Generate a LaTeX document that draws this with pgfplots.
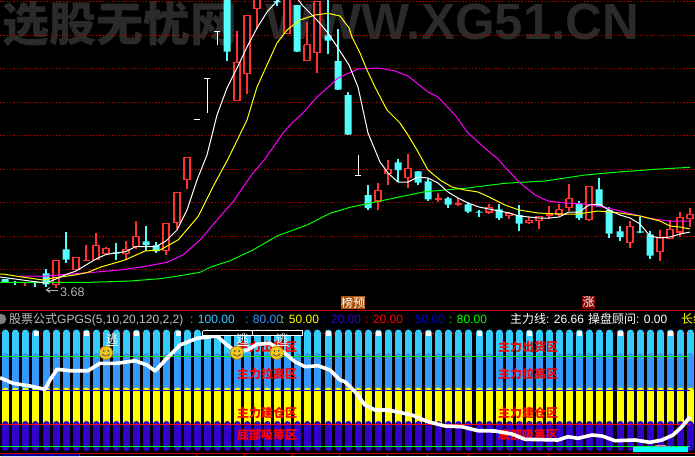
\documentclass[border=0pt]{standalone}
\usepackage{fontspec}
\usepackage{pgfplots}
\usepackage{pgfplotstable}
\pgfplotsset{compat=1.18}
\setmainfont{Liberation Sans}
\newfontfamily\cjk{Noto Sans CJK SC}

\definecolor{upred}{HTML}{FF3232}
\definecolor{downcy}{HTML}{54FCFC}
\definecolor{griddk}{HTML}{A80000}
\definecolor{wmark}{HTML}{2A2A2A}
\definecolor{bandA}{HTML}{33CCFF}
\definecolor{bandB}{HTML}{3399FF}
\definecolor{bandD}{HTML}{3300CC}
\definecolor{smileface}{HTML}{F2C81E}
\definecolor{smileedge}{HTML}{B08A10}
\definecolor{pureY}{HTML}{FFFF00}
\definecolor{pureM}{HTML}{FF00FF}
\definecolor{pureC}{HTML}{00FFFF}
\definecolor{pureG}{HTML}{00FF00}

% all positions: x and y in pixels, y from the top
\pgfplotstableread{
x a b c d
5 345.5 373 407.5 436
15 345.5 373 407.5 436
25 345.5 373 407.5 436
35 345.5 373 407.5 436
46 345.5 373 407.5 436
56 345.5 373 407.5 436
66 345.5 373 407.5 436
76 345.5 373 407.5 436
86 345.5 373 407.5 436
96 345.5 373 407.5 436
106 345.5 373 407.5 436
116 345.5 373 407.5 436
126 345.5 373 407.5 436
136 345.5 373 407.5 436
146 345.5 373 407.5 436
156 345.5 373 407.5 436
166 345.5 373 407.5 436
177 345.5 373 407.5 436
187 345.5 373 407.5 436
197 345.5 373 407.5 436
207 345.5 373 407.5 436
217 345.5 373 407.5 436
227 345.5 373 407.5 436
237 345.5 373 407.5 436
247 345.5 373 407.5 436
257 345.5 373 407.5 436
267 345.5 373 407.5 436
277 345.5 373 407.5 436
287 345.5 373 407.5 436
297 345.5 373 407.5 436
307 345.5 373 407.5 436
317 345.5 373 407.5 436
328 345.5 373 407.5 436
338 345.5 373 407.5 436
348 345.5 373 407.5 436
358 345.5 373 407.5 436
368 345.5 373 407.5 436
378 345.5 373 407.5 436
388 345.5 373 407.5 436
398 345.5 373 407.5 436
408 345.5 373 407.5 436
418 345.5 373 407.5 436
428 345.5 373 407.5 436
438 345.5 373 407.5 436
448 345.5 373 407.5 436
458 345.5 373 407.5 436
468 345.5 373 407.5 436
479 345.5 373 407.5 436
489 345.5 373 407.5 436
499 345.5 373 407.5 436
509 345.5 373 407.5 436
519 345.5 373 407.5 436
529 345.5 373 407.5 436
539 345.5 373 407.5 436
549 345.5 373 407.5 436
559 345.5 373 407.5 436
569 345.5 373 407.5 436
579 345.5 373 407.5 436
589 345.5 373 407.5 436
599 345.5 373 407.5 436
609 345.5 373 407.5 436
620 345.5 373 407.5 436
630 345.5 373 407.5 436
640 345.5 373 407.5 436
650 345.5 373 407.5 436
660 345.5 373 407.5 436
670 345.5 373 407.5 436
680 345.5 373 407.5 436
690 345.5 373 407.5 436
}\slots

\pgfplotstableread{
x y
0 277
15 279
30 281
46 283
56 279
66 274.5
76 271
86 265
96 259
106 254.5
116 253
126 251.5
136 246.5
146 246.5
156 246.5
166 241
177 230
187 210
197 180
207 155
217 115
227 88
237 68
247 47
257 28
267 12
277 1
287 -4
297 -2
302 5
317 20
328 33
338 48
349 65
358 87
368 133
375 150
380 162
388 173
398 182
408 182
418 177
428 178
438 183
448 192
458 198
468 203
479 207
489 209
499 211
509 213
519 216
529 217
539 218
549 218
559 217
569 212
579 212
589 205
599 204
609 210
620 215
630 218
640 224
650 236
660 238
670 237
680 234
690 232
}\maW

\pgfplotstableread{
x y
0 274
5 274.3
20 276.7
43 280
55 277.7
75 275
88 272.3
100 267.3
125 260
145 251
160 250
178 240
198 216.7
213 186.7
228 159
247 120
257 87
267 65
277 43
287 30
300 20
315 15
328 13.3
340 16
349 28
352 37
360 53
367 70
375 87
387 110
400 123
408 135
417 150
428 170
440 180
452 187
465 190
478 192
489 197
505 205
519 210
538 213
558 214
578 214
598 211
620 213
640 216
660 221
670 226
680 227
690 229
}\maY

\pgfplotstableread{
x y
20 276
43 276.3
67 274.3
88 272.7
120 270
143 266.7
167 262.3
183 255
200 240
217 220
233 201.7
253 173
265 159
283 133
292 123
303 113
317 97
325 90
338 78
349 73
358 69
378 68
395 71
408 76
428 92
438 97
455 115
468 133
487 150
498 159
505 167
519 182
535 195
548 201
565 203
585 204
608 208
628 213
648 218
668 221
690 221
}\maM

\pgfplotstableread{
x y
0 282.3
90 282.3
130 281
160 278.7
180 275.7
200 272.3
210 267.3
230 260.7
253 250
277 236
307 225
330 213.3
350 207.3
385 200
425 191.7
465 188.3
505 183.3
545 181
585 175
615 172.3
655 169.3
690 167.3
}\maG

\pgfplotstableread{
x y
0 377.7
13 383.3
30 386
45 389.3
50 380
57 369.3
70 370.7
88 370.7
100 363.3
117 363.3
135 360.7
147 365
155 371
167 358.3
180 345
197 338.3
217 336
227 345
237 351.7
247 350
257 344.3
270 343.3
283 351.7
295 361.7
305 366.7
318 365.7
330 370
340 380
345 381.7
355 391.7
365 405
375 410
388 410
412 415
428 421.7
445 426
462 426.7
478 430.7
495 431
512 434
525 439.3
558 440
568 436.7
578 438.3
592 435
602 436
615 440.7
635 440
650 442.3
662 440
673 435
682 426.7
690 416.7
}\mainline

\pgfdeclareplotmark{smile}{%
  \pgfsetstrokecolor{smileedge}\pgfsetfillcolor{smileface}\pgfsetlinewidth{0.8pt}%
  \pgfpathcircle{\pgfpointorigin}{6.6pt}\pgfusepath{fill,stroke}%
  \pgfsetfillcolor{black!75}%
  \pgfpathcircle{\pgfpoint{-2.2pt}{1.8pt}}{0.9pt}%
  \pgfpathcircle{\pgfpoint{2.2pt}{1.8pt}}{0.9pt}\pgfusepath{fill}%
  \pgfsetstrokecolor{black!75}\pgfsetlinewidth{0.7pt}%
  \pgfpathmoveto{\pgfpoint{-3.6pt}{-1.2pt}}%
  \pgfpathcurveto{\pgfpoint{-2pt}{-4pt}}{\pgfpoint{2pt}{-4pt}}{\pgfpoint{3.6pt}{-1.2pt}}%
  \pgfusepath{stroke}%
}

% x, high, low, body top, body bottom
\newcommand\up[5]{%
  \pgfmathsetmacro\xl{#1-3}\pgfmathsetmacro\xr{#1+3}%
  \addplot[upred,line width=1.1pt] coordinates {(#1,#2) (#1,#3)};
  \addplot[draw=upred,fill=black,line width=1.1pt] coordinates {(\xl,#4) (\xr,#4) (\xr,#5) (\xl,#5) (\xl,#4)};
}
\newcommand\down[5]{%
  \pgfmathsetmacro\xl{#1-3.5}\pgfmathsetmacro\xr{#1+3.5}%
  \addplot[downcy,line width=1.1pt] coordinates {(#1,#2) (#1,#3)};
  \addplot[draw=none,fill=downcy] coordinates {(\xl,#4) (\xr,#4) (\xr,#5) (\xl,#5) (\xl,#4)};
}
\newcommand\flatup[4]{%
  \pgfmathsetmacro\xl{#1-3.5}\pgfmathsetmacro\xr{#1+3.5}%
  \addplot[upred,line width=1.1pt] coordinates {(#1,#2) (#1,#3)};
  \addplot[upred,line width=1.8pt] coordinates {(\xl,#4) (\xr,#4)};
}
% lone white marks: x, top, bottom, y of the bar
\newcommand\tee[4]{%
  \pgfmathsetmacro\xl{#1-3}\pgfmathsetmacro\xr{#1+3}%
  \addplot[white,line width=1pt] coordinates {(#1,#2) (#1,#3)};
  \addplot[white,line width=1pt] coordinates {(\xl,#4) (\xr,#4)};
}
\newcommand\hd[4]{\node[anchor=base west,inner sep=0pt,text=#1,font=\fontsize{12}{15}\selectfont] at (axis cs:#2,#3) {#4};}
\newcommand\zone[3]{\node[inner sep=0pt,text=red,font=\fontsize{12}{14}\selectfont\cjk\bfseries] at (axis cs:#1,#2) {#3};}

\begin{document}
\begin{tikzpicture}
\clip (0,0) rectangle (695pt,456pt);
\begin{axis}[
    width=695pt, height=456pt, scale only axis,
    xmin=0, xmax=695, ymin=0, ymax=456,
    y dir=reverse,
    axis line style={draw=none},
    ticks=none,
    axis background/.style={fill=black},
  ]

  % watermark
  \node[anchor=west,inner sep=0pt,text=wmark,font=\fontsize{47}{50}\selectfont\cjk\bfseries] at (axis cs:2,24) {选股无忧网};
  \node[anchor=west,inner sep=0pt,text=wmark,font=\fontsize{51}{54}\selectfont\bfseries] at (axis cs:265,22) {WWW.XG51.CN};

  % price panel grid
  \pgfplotsinvokeforeach{1.3,35.3,68.3,102.3,135.3,169.3,202.3,236.3,269.3}{
    \addplot[griddk,line width=0.8pt,dash pattern=on 1.5pt off 1.8pt] coordinates {(0,#1) (695,#1)};
  }

  \down{5}{279}{283}{279}{282}
  \down{15}{280.7}{284.7}{281.8}{282.8}
  \flatup{25}{282}{285.7}{282.5}
  \down{35}{281}{286.7}{281.8}{282.6}
  \down{46}{269.3}{286.7}{273.3}{284.3}
  \up{56}{260.3}{287.7}{260.3}{284.3}
  \down{66}{232}{262.7}{249.3}{259.7}
  \up{76}{257.3}{269.7}{257.3}{269.7}
  \flatup{86}{245.3}{261.3}{260.5}
  \up{96}{233.3}{259.3}{245.3}{259.3}
  \up{106}{247.3}{253.3}{248.3}{253.3}
  \down{116}{243.3}{259.7}{252.3}{253.6}
  \up{126}{241.3}{260}{249.3}{253.3}
  \up{136}{221.3}{249.3}{236.3}{246.7}
  \down{146}{226.3}{251.3}{241.3}{245}
  \down{156}{242.3}{253.3}{245.3}{251.3}
  \up{166}{223.3}{254.7}{223.3}{250.3}
  \up{177}{192.3}{229.3}{192.3}{222.3}
  \up{187}{157.3}{188.7}{157.3}{179.7}
  \tee{197}{119}{119}{119}
  \tee{207}{78.3}{112.7}{78.3}
  \tee{217}{31.3}{44.7}{31.3}
  \down{227}{-3}{61}{-3}{51.7}
  \up{237}{31.3}{100.3}{62.3}{100.3}
  \up{247}{15.3}{93.7}{15.3}{73.3}
  \up{257}{-3}{29}{-3}{8.3}
  \down{277}{-1}{5.7}{1.2}{2.4}
  \up{287}{-3}{33.3}{-3}{33.3}
  \down{297}{5}{51.7}{5}{51.7}
  \up{307}{22}{60.7}{44.7}{60.7}
  \up{317}{1.3}{73.3}{1.3}{52.3}
  \down{328}{-1}{54.3}{35.3}{40.7}
  \down{338}{29}{89.7}{61}{89.7}
  \down{348}{92}{134.7}{95}{134.7}
  \tee{358}{155}{175}{175}
  \down{368}{185}{209.7}{195}{208}
  \up{378}{183}{209.7}{190.3}{201}
  \up{388}{160}{185}{169.3}{173.7}
  \down{398}{159.3}{181.7}{162.3}{170}
  \up{408}{154.3}{187.7}{168.3}{177.7}
  \down{418}{171.3}{185}{171.3}{182.7}
  \down{428}{178}{201}{181.3}{199.3}
  \flatup{438}{193.3}{201.7}{199.2}
  \down{448}{197.3}{207.7}{198.3}{204.7}
  \flatup{458}{198.3}{205.7}{204}
  \down{468}{201.7}{213}{204.3}{211.7}
  \down{479}{210}{216.7}{211.5}{212.5}
  \up{489}{204.3}{213.7}{207.3}{212}
  \down{499}{204.3}{220}{209.3}{218}
  \up{509}{211.7}{218.7}{213.3}{215.7}
  \down{519}{205.3}{230.7}{215}{223.7}
  \up{529}{216.7}{223.7}{220.3}{222.3}
  \up{539}{216.3}{228.7}{216.3}{220.3}
  \flatup{549}{206}{218.7}{215.2}
  \up{559}{204}{216}{209.7}{214}
  \up{569}{184.3}{211}{198.7}{207.7}
  \down{579}{201.3}{219.7}{203.7}{218}
  \up{589}{186.3}{220.7}{186.3}{219.7}
  \down{599}{178.3}{206.7}{189.3}{206.7}
  \down{609}{207.3}{238}{210}{233.7}
  \down{620}{226}{240.7}{231.3}{237}
  \up{630}{220.7}{248}{226.3}{242.7}
  \down{640}{216.7}{233.3}{231.3}{232.7}
  \down{650}{231.3}{258.7}{234.3}{255.7}
  \up{660}{230}{261}{237.7}{251.7}
  \up{670}{220}{238.7}{229.3}{238.7}
  \up{680}{212}{236.7}{217.3}{232}
  \up{690}{208.3}{227}{214.3}{218.7}

  % moving averages
  \addplot[pureG,line width=1pt] table {\maG};
  \addplot[pureM,line width=1pt] table {\maM};
  \addplot[pureY,line width=1pt] table {\maY};
  \addplot[white,line width=1pt] table {\maW};

  % lowest price note
  \addplot[black!30,line width=1pt] coordinates {(58,290) (46.5,290)};
  \addplot[black!30,line width=1pt] coordinates {(50,287.5) (46.5,290) (50,292.5)};
  \node[anchor=base west,inner sep=0pt,text=black!30,font=\fontsize{12.5}{15}\selectfont] at (axis cs:60,296) {3.68};

  % event flags
  \addplot[draw=none,fill={rgb,255:red,170;green,80;blue,10}] coordinates {(341,296) (365,296) (365,309) (341,309) (341,296)};
  \node[inner sep=0pt,text=white,font=\fontsize{12}{14}\selectfont\cjk] at (axis cs:353,302.5) {榜预};
  \addplot[draw=none,fill={rgb,255:red,130;green,0;blue,0}] coordinates {(582,296) (595,296) (595,309) (582,309) (582,296)};
  \node[inner sep=0pt,text=white,font=\fontsize{12}{14}\selectfont\cjk] at (axis cs:588.5,302.5) {涨};

  % panel border
  \addplot[red!80!black,line width=1pt] coordinates {(0,310.3) (695,310.3)};

  % header
  \addplot[only marks,mark=*,mark size=5pt,mark options={fill=gray,draw=gray}] coordinates {(1,319)};
  \hd{black!25}{9}{323}{{\cjk 股票公式}GPGS(5,10,20,120,2,2)}
  \hd{bandA}{190}{323}{: 100.00}
  \hd{bandB}{245}{323}{: 80.00}
  \hd{pureY}{281}{323}{: 50.00}
  \hd{bandD}{323}{323}{: 20.00}
  \hd{red}{365}{323}{: 20.00}
  \hd{blue!80!black}{407}{323}{: 50.00}
  \hd{pureG}{449}{323}{: 80.00}
  \hd{white}{510}{323}{{\cjk 主力线}: 26.66}
  \hd{white}{588}{323}{{\cjk 操盘顾问}: 0.00}
  \hd{pureY}{681}{323}{{\cjk 长线}}

  % indicator panel
  \addplot[griddk,line width=0.8pt,dash pattern=on 1.5pt off 1.8pt] coordinates {(0,333.6) (695,333.6)};
  \addplot[draw=none,mark=none,error bars/.cd,y dir=both,y fixed=12.5,error mark=none,
    error bar style={color=bandA,line width=7pt,line cap=round}] table[x=x,y=a] {\slots};
  \addplot[draw=none,mark=none,error bars/.cd,y dir=both,y fixed=16.5,error mark=none,
    error bar style={color=bandB,line width=7pt,line cap=round}] table[x=x,y=b] {\slots};
  \addplot[draw=none,mark=none,error bars/.cd,y dir=both,y fixed=16.5,error mark=none,
    error bar style={color=pureY,line width=7pt,line cap=round}] table[x=x,y=c] {\slots};
  \addplot[draw=none,mark=none,error bars/.cd,y dir=both,y fixed=11.5,error mark=none,
    error bar style={color=bandD,line width=7pt,line cap=round}] table[x=x,y=d] {\slots};
  \addplot[only marks,mark=square*,mark size=2pt,mark options={fill=white,draw=white}] coordinates {
    (36,333.5) (86,333.5) (136,333.5) (178,333.5) (328,333.5) (378,333.5) (428,333.5) (479,333.5) (529,333.5) (579,333.5) (620.5,333.5) (670.5,333.5)};

  \addplot[pureG,line width=1pt] coordinates {(0,356.7) (690,356.7)};
  \addplot[blue,line width=1pt] coordinates {(0,390.3) (690,390.3)};
  \addplot[red,line width=1pt] coordinates {(0,424) (690,424)};
  \addplot[pureG,line width=1pt] coordinates {(0,446.7) (690,446.7)};

  \zone{267}{347}{主力出货区}
  \zone{267}{374}{主力拉高区}
  \zone{267}{413}{主力建仓区}
  \zone{267}{435}{底部吸筹区}
  \zone{528}{347}{主力出货区}
  \zone{528}{374}{主力拉高区}
  \zone{528}{413}{主力建仓区}
  \zone{528}{435}{底部吸筹区}

  \addplot[draw=none,fill={rgb,255:red,210;green,130;blue,130}] coordinates {(655,445) (666,445) (666,447) (655,447) (655,445)};
  \addplot[draw=none,fill=pureC] coordinates {(633,446.7) (688,446.7) (688,452) (633,452) (633,446.7)};

  \addplot[white,line width=3.6pt,line join=round] table {\mainline};

  % frame above the stripes
  \addplot[draw=white,fill=black,line width=1pt] coordinates {(202.5,330.5) (302.5,330.5) (302.5,335.5) (202.5,335.5) (202.5,330.5)};
  \addplot[white,line width=1pt] coordinates {(252.5,330.5) (252.5,335.5)};

  % signals
  \addplot[only marks,mark=smile] coordinates {(106,352.7) (237,352.7) (276.7,352.7)};
  \pgfplotsinvokeforeach{112,242.5,282}{
    \node[inner sep=0pt,text=white,font=\fontsize{12}{14}\selectfont\cjk] at (axis cs:#1,338.5) {逃};
  }
  \addplot[white,line width=0.8pt] coordinates {(106,345) (118,345)};
  \addplot[white,line width=0.8pt] coordinates {(236.5,345) (248.5,345)};
  \addplot[white,line width=0.8pt] coordinates {(276,345) (288,345)};

  % time axis at the foot
  \addplot[red!80!black,line width=1pt] coordinates {(0,453.5) (695,453.5)};
  \addplot[draw=none,fill={rgb,255:red,0;green,0;blue,150}] coordinates {(1,454) (79,454) (79,456) (1,456) (1,454)};
  \addplot[red!80!black,draw=none,mark=none,error bars/.cd,y dir=plus,y fixed=2.5,error mark=none,
    error bar style={color=red!80!black,line width=1pt}] coordinates {
    (79,453.5) (196,453.5) (244,453.5) (292,453.5) (339,453.5) (387,453.5) (427,453.5) (468,453.5) (509,453.5) (548,453.5)};
\end{axis}
\end{tikzpicture}
\end{document}
